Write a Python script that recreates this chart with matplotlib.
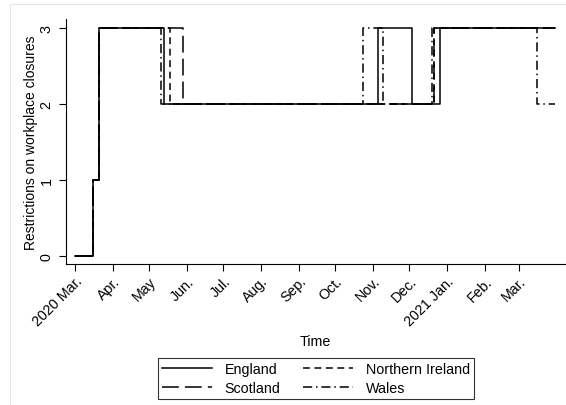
import numpy as np
import pandas as pd
import matplotlib
matplotlib.use("Agg")
import matplotlib.pyplot as plt
from matplotlib.lines import Line2D

plt.rcParams['font.family'] = ['Liberation Sans', 'DejaVu Sans']

# change points (date, level), last entry = end of series
england_dates = ["2020-03-01", "2020-03-16", "2020-03-21", "2020-05-13", "2020-11-05",
                 "2020-12-03", "2020-12-26", "2021-03-31"]
england_vals = [0, 1, 3, 2, 3, 2, 3, 3]

nireland_dates = ["2020-03-01", "2020-03-16", "2020-03-21", "2020-05-18", "2020-12-21",
                  "2021-03-31"]
nireland_vals = [0, 1, 3, 2, 3, 3]

scotland_dates = ["2020-03-01", "2020-03-16", "2020-03-21", "2020-05-29", "2020-12-21",
                  "2021-03-31"]
scotland_vals = [0, 1, 3, 2, 3, 3]

wales_dates = ["2020-03-01", "2020-03-16", "2020-03-21", "2020-05-11", "2020-10-24",
               "2020-11-09", "2020-12-20", "2021-03-16", "2021-03-31"]
wales_vals = [0, 1, 3, 2, 3, 2, 3, 2, 2]

tick_dates = pd.date_range("2020-03-01", "2021-03-01", freq="MS")
tick_labels = ["2020 Mar.", "Apr.", "May", "Jun.", "Jul.", "Aug.", "Sep.", "Oct.",
               "Nov.", "Dec.", "2021 Jan.", "Feb.", "Mar."]

W, H = 566, 406
fs = 10.3
fig = plt.figure(figsize=(W / 100, H / 100), dpi=100)
ax = fig.add_axes([66 / W, 1 - 265 / H, (565 - 66) / W, (265 - 20) / H])

styles = {
    "England": dict(linestyle="-"),
    "Northern Ireland": dict(dashes=(4.5, 3)),
    "Scotland": dict(dashes=(11, 4)),
    "Wales": dict(dashes=(6, 2.5, 1, 2.5)),
}
series = {
    "England": (england_dates, england_vals),
    "Northern Ireland": (nireland_dates, nireland_vals),
    "Scotland": (scotland_dates, scotland_vals),
    "Wales": (wales_dates, wales_vals),
}
for name, (d, v) in series.items():
    ax.plot(pd.to_datetime(d), v, color="black", lw=1.1, drawstyle="steps-post",
            label=name, **styles[name])

start = pd.Timestamp("2020-03-01")
ax.set_xlim(start - pd.Timedelta(days=7.4), start + pd.Timedelta(days=403))
ax.set_ylim(-0.105, 3.118)

ax.set_xticks(tick_dates)
ax.set_xticklabels(tick_labels, rotation=45, ha="right", rotation_mode="anchor")
ax.set_yticks([0, 1, 2, 3])
ax.set_yticklabels(["0", "1", "2", "3"], rotation=90, va="center")
ax.tick_params(axis="both", labelsize=fs, length=5, width=0.8, color="black")
ax.tick_params(axis="x", pad=2)
ax.tick_params(axis="y", pad=4)

for s in ["top", "right"]:
    ax.spines[s].set_visible(False)
for s in ["left", "bottom"]:
    ax.spines[s].set_linewidth(0.8)

ax.set_xlabel("Time", fontsize=fs, labelpad=4)
ax.set_ylabel("Restrictions on workplace closures", fontsize=10, labelpad=1)

handles, labels = ax.get_legend_handles_labels()
order = [0, 2, 1, 3]
leg = fig.legend([handles[i] for i in order], [labels[i] for i in order],
                 ncol=2, loc="upper center", bbox_to_anchor=(316 / W, 1 - 359 / H),
                 frameon=True, fancybox=False, edgecolor="black", fontsize=fs,
                 handlelength=3.5, handletextpad=0.88, columnspacing=1.6,
                 borderpad=0.3, labelspacing=0.3, borderaxespad=0)
leg.get_frame().set_linewidth(0.8)

# faint outer graph-region border
fig.add_artist(Line2D([10 / W, 10 / W], [1 - 5 / H, 0], color="#e6e6e6", lw=0.8))
fig.add_artist(Line2D([10 / W, 1], [1 - 5 / H, 1 - 5 / H], color="#e6e6e6", lw=0.8))

fig.savefig("out.png", dpi=100)
